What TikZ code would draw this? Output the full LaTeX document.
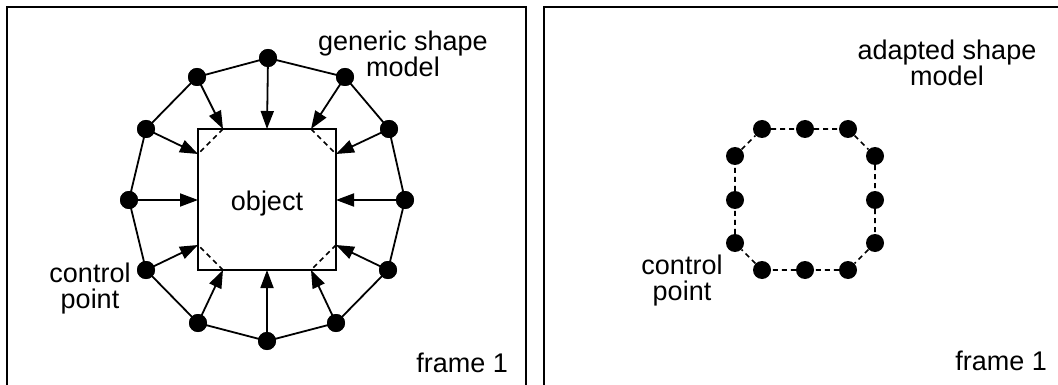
\documentclass[tikz,border=0pt]{standalone}
\usepackage{fontspec}
\setmainfont{Liberation Sans}
\usetikzlibrary{arrows.meta}
\begin{document}
\begin{tikzpicture}[x=1pt,y=-1pt,
  dot/.style={circle,fill=black,inner sep=0pt,minimum size=18pt},
  framebox/.style={line width=2pt},
  link/.style={line width=1.8pt},
  push/.style={line width=1.8pt,-{Triangle[length=18pt,width=13pt]}},
  cut/.style={line width=1.6pt,dash pattern=on 5pt off 4pt},
  lbl/.style={font=\fontsize{27}{26}\selectfont,align=center,inner sep=0pt,anchor=base}]
\useasboundingbox (0,0) rectangle (1058,385);
\clip (0,0) rectangle (1058,385);
% frames
\draw[framebox] (7,395) -- (7,7) -- (526,7) -- (526,395);
\draw[framebox] (544,395) -- (544,7) -- (1070,7);
% object square
\draw[line width=1.6pt] (198,129) rectangle (336,270);
\node[lbl] (obj) at (267,211) {object};
\coordinate (t1) at (267,129);
\coordinate (t2) at (311,129);
\coordinate (t3) at (336,154);
\coordinate (t4) at (336,200);
\coordinate (t5) at (336,245);
\coordinate (t6) at (311,270);
\coordinate (t7) at (267,270);
\coordinate (t8) at (223,270);
\coordinate (t9) at (198,245);
\coordinate (t10) at (198,200);
\coordinate (t11) at (198,154);
\coordinate (t12) at (223,129);
\draw[cut] (t12) -- (t11) (t2) -- (t3) (t5) -- (t6) (t8) -- (t9);
% generic shape model points
\node[dot] (p1) at (268,58) {};
\node[dot] (p2) at (345,77) {};
\node[dot] (p3) at (389,129) {};
\node[dot] (p4) at (405,200) {};
\node[dot] (p5) at (388,270) {};
\node[dot] (p6) at (336,323) {};
\node[dot] (p7) at (267,341) {};
\node[dot] (p8) at (198,323) {};
\node[dot] (p9) at (146,270) {};
\node[dot] (p10) at (129,200) {};
\node[dot] (p11) at (146,129) {};
\node[dot] (p12) at (197,77) {};
\draw[link] (p1.center) -- (p2.center) -- (p3.center) -- (p4.center) -- (p5.center) -- (p6.center) -- (p7.center) -- (p8.center) -- (p9.center) -- (p10.center) -- (p11.center) -- (p12.center) -- cycle;
\foreach \i in {1,...,12} {\draw[push] (p\i.center) -- (t\i);}
\foreach \i in {1,...,12} {\node[dot] at (p\i) {};}
% left labels
\node[lbl] (gsm) at (403,77) {generic shape\\model};
\node[lbl] (cp1) at (90,308) {control\\point};
\node[lbl,anchor=base east] (f1) at (508,372) {frame 1};
% adapted shape model
\node[dot] (q1) at (762,129) {};
\node[dot] (q2) at (805,129) {};
\node[dot] (q3) at (848,129) {};
\node[dot] (q4) at (875,156) {};
\node[dot] (q5) at (875,200) {};
\node[dot] (q6) at (875,243) {};
\node[dot] (q7) at (848,270) {};
\node[dot] (q8) at (805,270) {};
\node[dot] (q9) at (762,270) {};
\node[dot] (q10) at (735,243) {};
\node[dot] (q11) at (735,200) {};
\node[dot] (q12) at (735,156) {};
\draw[cut] (q1) -- (q2) -- (q3) -- (q4) -- (q5) -- (q6) -- (q7) -- (q8) -- (q9) -- (q10) -- (q11) -- (q12) -- (q1);
% right labels
\node[lbl] (asm) at (947,86) {adapted shape\\model};
\node[lbl] (cp2) at (682,300) {control\\point};
\node[lbl,anchor=base east] (f2) at (1047,370) {frame 1};
\end{tikzpicture}
\end{document}
